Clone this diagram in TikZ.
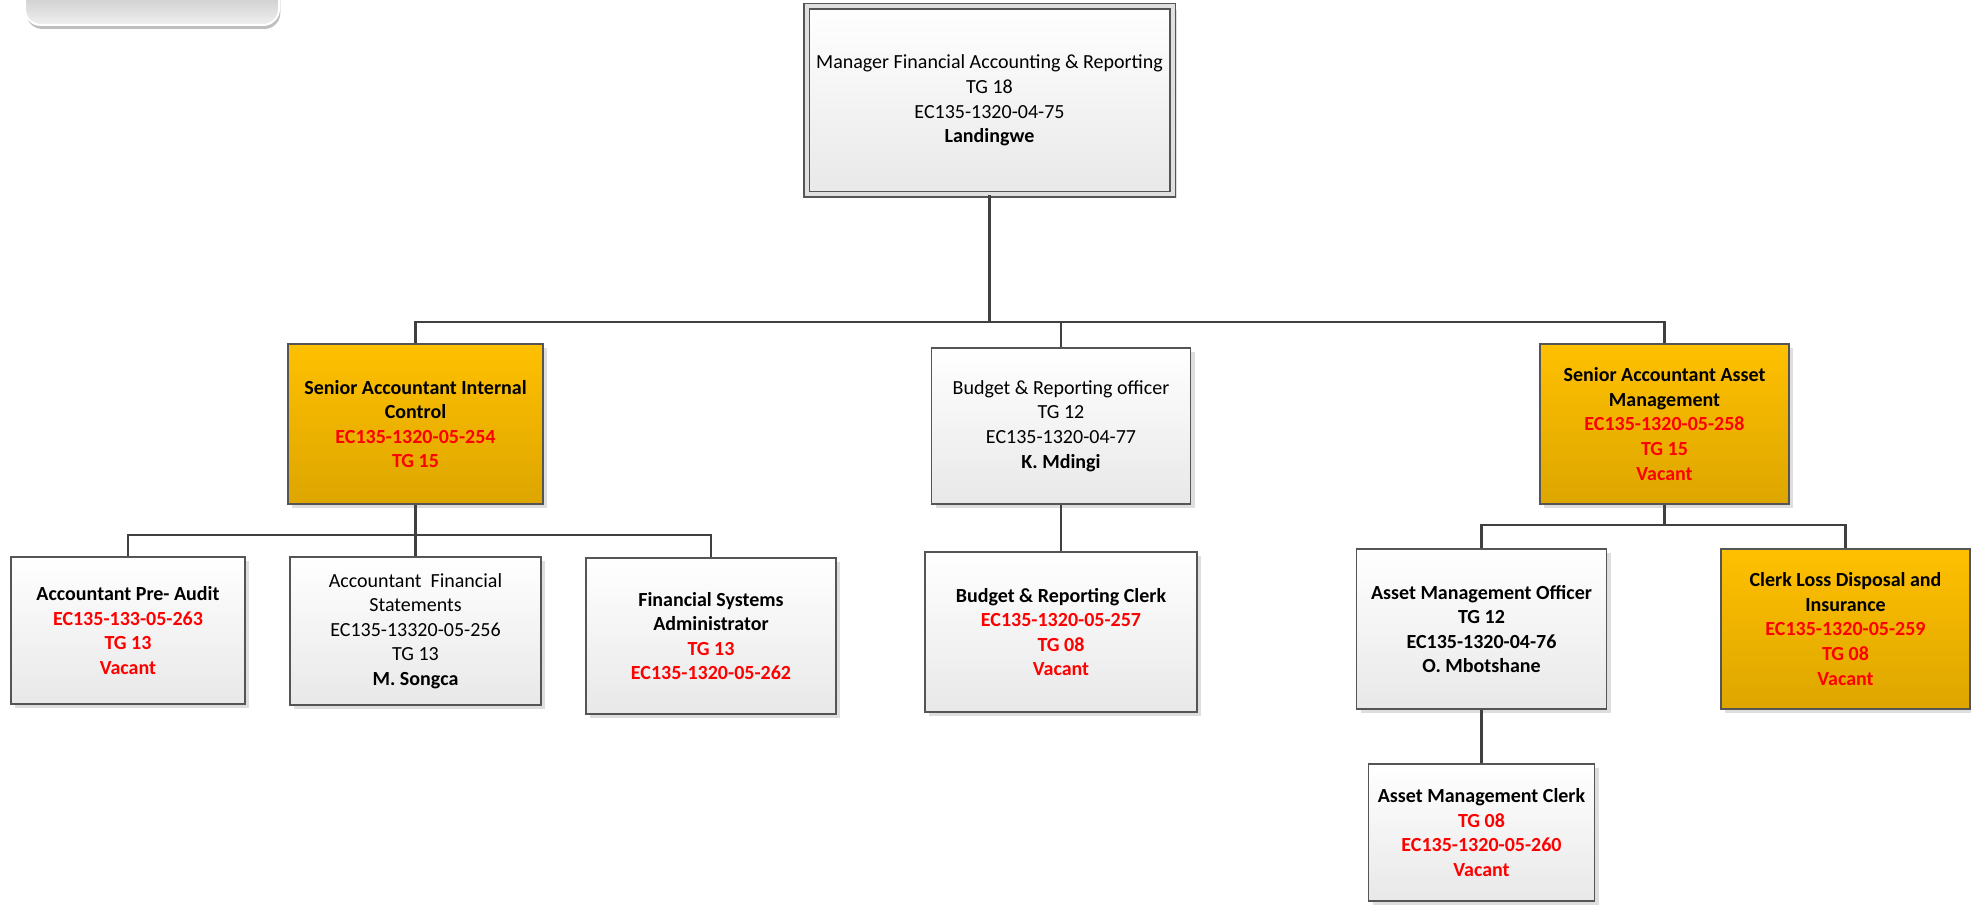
\documentclass[tikz,border=0pt]{standalone}
\usepackage{fontspec}
\setmainfont{Carlito}
\usetikzlibrary{shadows}

\definecolor{boxline}{HTML}{555555}
\definecolor{linkline}{HTML}{404040}
\definecolor{goldtop}{HTML}{FFC000}
\definecolor{goldbot}{HTML}{DDA600}
\definecolor{vacred}{HTML}{FF0000}

\newcommand{\vac}[1]{\textcolor{vacred}{#1}}

\tikzset{
  post/.style={draw=boxline, line width=0.9pt, align=center, inner sep=2pt,
    font=\fontsize{15}{18.4}\selectfont,
    drop shadow={shadow xshift=3pt, shadow yshift=-3pt, fill=black!13, opacity=1}},
  boldtext/.style={font=\fontsize{15}{18.4}\selectfont\bfseries},
  greypost/.style={post, top color=white, bottom color=black!9},
  goldpost/.style={post, top color=goldtop, bottom color=goldbot},
  link/.style={draw=linkline, line width=1.6pt},
}

\begin{document}
\begin{tikzpicture}[x=0.75pt, y=-0.75pt]
			\useasboundingbox (0,0) rectangle (1971,905);

			% rounded tab at top left, cut by the page edge
			\draw[white, line width=1.5pt, rounded corners=12pt, top color=black!35, bottom color=black!6,
				drop shadow={shadow xshift=1pt, shadow yshift=-3pt, fill=black!25, opacity=1}]
				(25,-40) rectangle (279,25);

			\draw (989.5, 100.5) 	node[greypost, double=black!12, double distance=3pt, line width=0.8pt,
				minimum width=366*0.75pt, minimum height=188*0.75pt] 	(boss) 	{Manager Financial Accounting \& Reporting\\TG 18\\EC135-1320-04-75\\\textbf{Landingwe}};

			\draw (415.5, 424) 	node[goldpost, boldtext, minimum width=255*0.75pt, minimum height=160*0.75pt] 	(saic) 	{Senior Accountant Internal\\Control\\\vac{EC135-1320-05-254}\\\vac{TG 15}};
			\draw (1061, 426) 	node[greypost, minimum width=259*0.75pt, minimum height=156*0.75pt] 	(bro) 	{Budget \& Reporting officer\\TG 12\\EC135-1320-04-77\\\textbf{K. Mdingi}};
			\draw (1664.5, 424) 	node[goldpost, boldtext, minimum width=249*0.75pt, minimum height=160*0.75pt] 	(saam) 	{Senior Accountant Asset\\Management\\\vac{EC135-1320-05-258}\\\vac{TG 15}\\\vac{Vacant}};

			\draw (128, 630.5) 	node[greypost, boldtext, minimum width=234*0.75pt, minimum height=147*0.75pt] 	(pre) 	{Accountant Pre- Audit\\\vac{EC135-133-05-263}\\\vac{TG 13}\\\vac{Vacant}};
			\draw (415.5, 631) 	node[greypost, minimum width=251*0.75pt, minimum height=148*0.75pt] 	(afs) 	{Accountant~ Financial\\Statements\\EC135-13320-05-256\\TG 13\\\textbf{M. Songca}};
			\draw (711, 636) 	node[greypost, boldtext, minimum width=250*0.75pt, minimum height=156*0.75pt] 	(fsa) 	{Financial Systems\\Administrator\\\vac{TG 13}\\\vac{EC135-1320-05-262}};
			\draw (1061, 632) 	node[greypost, boldtext, minimum width=272*0.75pt, minimum height=160*0.75pt] 	(brc) 	{Budget \& Reporting Clerk\\\vac{EC135-1320-05-257}\\\vac{TG 08}\\\vac{Vacant}};
			\draw (1481.5, 629) 	node[greypost, boldtext, minimum width=250*0.75pt, minimum height=160*0.75pt] 	(amo) 	{Asset Management Officer\\TG 12\\EC135-1320-04-76\\O. Mbotshane};
			\draw (1845.5, 629) 	node[goldpost, boldtext, minimum width=249*0.75pt, minimum height=160*0.75pt] 	(loss) 	{Clerk Loss Disposal and\\Insurance\\\vac{EC135-1320-05-259}\\\vac{TG 08}\\\vac{Vacant}};
			\draw (1481.5, 832.5) 	node[greypost, boldtext, minimum width=226*0.75pt, minimum height=137*0.75pt] 	(amc) 	{Asset Management Clerk\\\vac{TG 08}\\\vac{EC135-1320-05-260}\\\vac{Vacant}};

			\coordinate (topbus) at (0, 322);
			\coordinate (leftbus) at (0, 535);
			\coordinate (rightbus) at (0, 525);

			\draw[link] (boss.south) -- (boss.south |- topbus);
			\draw[link] (saic.north) |- (saam.north |- topbus) -- (saam.north);
			\draw[link] (bro.north) -- (bro.north |- topbus);

			\draw[link] (saic.south) -- (saic.south |- leftbus);
			\draw[link] (pre.north) |- (fsa.north |- leftbus) -- (fsa.north);
			\draw[link] (afs.north) -- (afs.north |- leftbus);

			\draw[link] (bro.south) -- (brc.north);

			\draw[link] (saam.south) -- (saam.south |- rightbus);
			\draw[link] (amo.north) |- (loss.north |- rightbus) -- (loss.north);
			\draw[link] (amo.south) -- (amc.north);
		\end{tikzpicture}
\end{document}
